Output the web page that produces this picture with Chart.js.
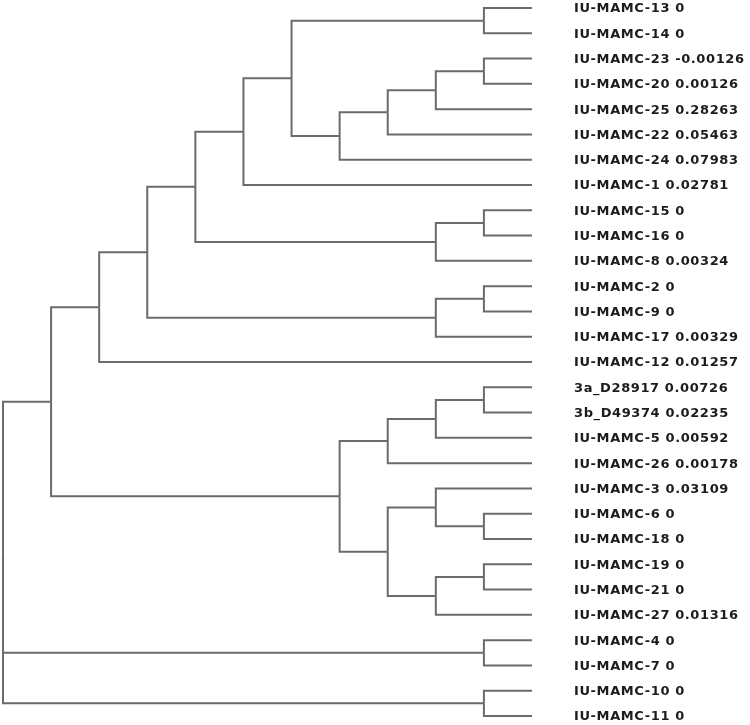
<!DOCTYPE html>
<html>
<head>
<meta charset="utf-8">
<script src="https://cdn.jsdelivr.net/npm/chart.js@4"></script>
<style>
  html, body { margin: 0; padding: 0; background: #fff; }
  #wrap { width: 750px; height: 725px; position: relative; }
</style>
</head>
<body>
<div id="wrap"><canvas id="dendrogram"></canvas></div>
<script>
// leaves, top to bottom
var leafNames = ["IU-MAMC-13", "IU-MAMC-14", "IU-MAMC-23", "IU-MAMC-20", "IU-MAMC-25", "IU-MAMC-22", "IU-MAMC-24",
    "IU-MAMC-1", "IU-MAMC-15", "IU-MAMC-16", "IU-MAMC-8", "IU-MAMC-2", "IU-MAMC-9", "IU-MAMC-17", "IU-MAMC-12",
    "3a_D28917", "3b_D49374", "IU-MAMC-5", "IU-MAMC-26", "IU-MAMC-3", "IU-MAMC-6", "IU-MAMC-18", "IU-MAMC-19",
    "IU-MAMC-21", "IU-MAMC-27", "IU-MAMC-4", "IU-MAMC-7", "IU-MAMC-10", "IU-MAMC-11"];
var leafValues = ["0", "0", "-0.00126", "0.00126", "0.28263", "0.05463", "0.07983",
    "0.02781", "0", "0", "0.00324", "0", "0", "0.00329", "0.01257",
    "0.00726", "0.02235", "0.00592", "0.00178", "0.03109", "0", "0", "0",
    "0", "0.01316", "0", "0", "0", "0"];

// clusters as nested lists of leaf indices
var upperClade = [[[[[[0, 1], [[[[2, 3], 4], 5], 6]], 7], [[8, 9], 10]], [[11, 12], 13]], 14];
var lowerClade = [[[[15, 16], 17], 18], [[19, [20, 21]], [[22, 23], 24]]];
var tree = [[upperClade, lowerClade], [25, 26], [27, 28]];

function height(node) {
    return Array.isArray(node) ? 1 + Math.max.apply(null, node.map(height)) : 0;
}
var leafDepth = height(tree);

var segments = [];
function place(node) {
    if (!Array.isArray(node)) return { x: leafDepth, y: node };
    var kids = node.map(place);
    var x = leafDepth - height(node);
    var y = (kids[0].y + kids[kids.length - 1].y) / 2;
    kids.forEach(function (k) {
        segments.push([{ x: x, y: y }, { x: x, y: k.y }, { x: k.x, y: k.y }]);
    });
    return { x: x, y: y };
}
place(tree);

var datasets = segments.map(function (s) {
    return {
        data: s,
        showLine: true,
        borderColor: "#6b6b6b",
        borderWidth: 2,
        pointRadius: 0,
        borderJoinStyle: "miter",
        borderCapStyle: "butt",
        clip: false
    };
});

var letterSpacing = {
    id: "letterSpacing",
    beforeDraw: function (chart) { chart.ctx.letterSpacing = "0.6px"; }
};

new Chart(document.getElementById("dendrogram").getContext("2d"), {
    type: "scatter",
    data: { datasets: datasets },
    plugins: [letterSpacing],
    options: {
        responsive: true,
        maintainAspectRatio: false,
        animation: false,
        layout: { padding: { left: 3, top: 8, bottom: 9, right: 0 } },
        plugins: { legend: { display: false }, tooltip: { enabled: false } },
        scales: {
            x: { type: "linear", min: 0, max: leafDepth, display: false },
            y: {
                type: "linear",
                position: "right",
                reverse: true,
                min: 0,
                max: leafNames.length - 1,
                grid: { display: false, drawTicks: false, tickLength: 0 },
                border: { display: false },
                ticks: {
                    autoSkip: false,
                    padding: 42,
                    labelOffset: 1,
                    color: "#1c1c1c",
                    font: { family: "DejaVu Sans", size: 13, weight: "bold" },
                    callback: function (v) { return leafNames[v] + " " + leafValues[v]; }
                },
                afterBuildTicks: function (scale) {
                    scale.ticks = leafNames.map(function (_, i) { return { value: i }; });
                },
                afterFit: function (scale) {
                    scale.width = 218;
                    scale.paddingTop = 0;
                    scale.paddingBottom = 0;
                }
            }
        }
    }
});
</script>
</body>
</html>
